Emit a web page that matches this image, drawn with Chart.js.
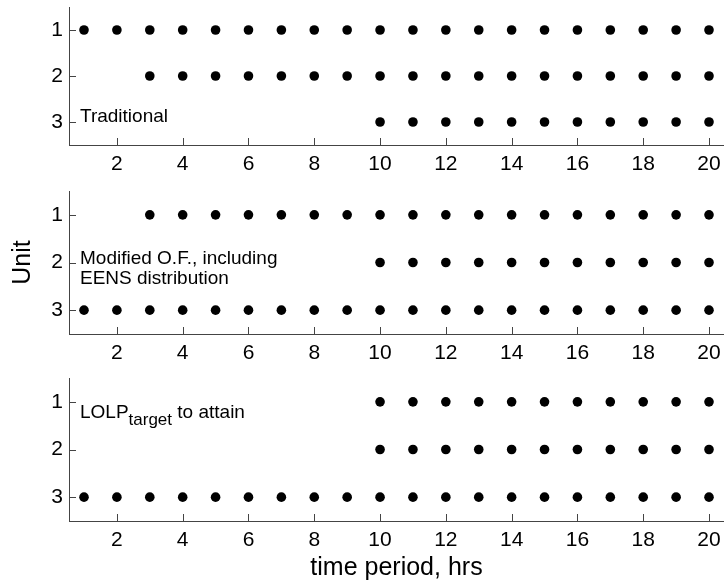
<!DOCTYPE html>
<html>
<head>
<meta charset="utf-8">
<script src="https://cdn.jsdelivr.net/npm/chart.js@4.4.0/dist/chart.umd.min.js"></script>
<style>
    html, body { margin: 0; padding: 0; background: #fff; }
    #wrap { position: relative; width: 724px; height: 581px; overflow: hidden; }
    #wrap canvas { position: absolute; left: 0; }
</style>
</head>
<body>
<div id="wrap">
    <canvas id="cTop" width="724" height="185" style="top:0px"></canvas>
    <canvas id="cMid" width="724" height="190" style="top:185px"></canvas>
    <canvas id="cBot" width="724" height="206" style="top:375px"></canvas>
</div>
<script>
// hours on the x axis and tick labels
const hours = [1, 2, 3, 4, 5, 6, 7, 8, 9, 10, 11, 12, 13, 14, 15, 16, 17, 18, 19, 20];
const xTicks = [2, 4, 6, 8, 10, 12, 14, 16, 18, 20];
const yTicks = [1, 2, 3];

// unit status per hour (1 = committed)
const tradUnit1 = [1, 1, 1, 1, 1, 1, 1, 1, 1, 1, 1, 1, 1, 1, 1, 1, 1, 1, 1, 1];
const tradUnit2 = [0, 0, 1, 1, 1, 1, 1, 1, 1, 1, 1, 1, 1, 1, 1, 1, 1, 1, 1, 1];
const tradUnit3 = [0, 0, 0, 0, 0, 0, 0, 0, 0, 1, 1, 1, 1, 1, 1, 1, 1, 1, 1, 1];

const modUnit1 = [0, 0, 1, 1, 1, 1, 1, 1, 1, 1, 1, 1, 1, 1, 1, 1, 1, 1, 1, 1];
const modUnit2 = [0, 0, 0, 0, 0, 0, 0, 0, 0, 1, 1, 1, 1, 1, 1, 1, 1, 1, 1, 1];
const modUnit3 = [1, 1, 1, 1, 1, 1, 1, 1, 1, 1, 1, 1, 1, 1, 1, 1, 1, 1, 1, 1];

const lolpUnit1 = [0, 0, 0, 0, 0, 0, 0, 0, 0, 1, 1, 1, 1, 1, 1, 1, 1, 1, 1, 1];
const lolpUnit2 = [0, 0, 0, 0, 0, 0, 0, 0, 0, 1, 1, 1, 1, 1, 1, 1, 1, 1, 1, 1];
const lolpUnit3 = [1, 1, 1, 1, 1, 1, 1, 1, 1, 1, 1, 1, 1, 1, 1, 1, 1, 1, 1, 1];

const FONT = "'Liberation Sans', Arial, sans-serif";
const axisColor = '#444';

// inward (matlab style) ticks + text notes placed in data coords
const axesDecor = {
    id: 'axesDecor',
    afterDraw(chart, args, opts) {
        const { ctx, chartArea: a, scales: { x, y } } = chart;
        ctx.save();
        ctx.strokeStyle = axisColor;
        ctx.lineWidth = 1;
        ctx.beginPath();
        x.ticks.forEach(t => {
            const px = Math.round(x.getPixelForValue(t.value)) + 0.5;
            ctx.moveTo(px, a.bottom);
            ctx.lineTo(px, a.bottom - 7);
        });
        y.ticks.forEach(t => {
            const py = Math.round(y.getPixelForValue(t.value)) + 0.5;
            ctx.moveTo(a.left, py);
            ctx.lineTo(a.left + 7, py);
        });
        ctx.stroke();

        ctx.fillStyle = '#000';
        ctx.textBaseline = 'alphabetic';
        (opts.notes || []).forEach(n => {
            let px = x.getPixelForValue(n.x);
            const py = y.getPixelForValue(n.y);
            n.parts.forEach(p => {
                ctx.font = (p.size || 19) + 'px ' + FONT;
                ctx.fillText(p.text, px, py + (p.dy || 0));
                px += ctx.measureText(p.text).width;
            });
        });
        ctx.restore();
    }
};

function toPoints(status, unit) {
    const pts = [];
    status.forEach((on, i) => { if (on) pts.push({ x: hours[i], y: unit }); });
    return pts;
}

function makeChart(id, rows, cfg) {
    const ctx = document.getElementById(id).getContext('2d');
    return new Chart(ctx, {
        type: 'scatter',
        data: {
            datasets: rows.map((r, i) => ({
                label: 'Unit ' + (i + 1),
                data: toPoints(r, i + 1),
                backgroundColor: '#000',
                borderWidth: 0,
                pointRadius: 4.8,
                pointHoverRadius: 4.8,
                clip: false
            }))
        },
        plugins: [axesDecor],
        options: {
            responsive: false,
            animation: false,
            layout: { autoPadding: false, padding: { top: cfg.padTop, left: 0, right: 0, bottom: 0 } },
            plugins: {
                legend: { display: false },
                tooltip: { enabled: false },
                axesDecor: { notes: cfg.notes }
            },
            scales: {
                x: {
                    type: 'linear',
                    min: 0.544,
                    max: 20.456,
                    afterBuildTicks: s => { s.ticks = xTicks.map(v => ({ value: v })); },
                    afterFit: s => { s.height = cfg.xHeight; s.paddingLeft = 0; s.paddingRight = 0; },
                    grid: { display: true, drawOnChartArea: false, drawTicks: false },
                    border: { display: true, color: axisColor, width: 1 },
                    ticks: { color: '#000', padding: 7, maxRotation: 0, autoSkip: false, font: { family: FONT, size: 21 } },
                    title: {
                        display: !!cfg.xTitle,
                        text: cfg.xTitle || '',
                        color: '#000',
                        padding: { top: 0, bottom: -2 },
                        font: { family: FONT, size: 25 }
                    }
                },
                y: {
                    type: 'linear',
                    reverse: true,
                    min: 0.5,
                    max: 3.5,
                    afterBuildTicks: s => { s.ticks = yTicks.map(v => ({ value: v })); },
                    afterFit: s => { s.width = 69; s.paddingTop = 0; s.paddingBottom = 0; },
                    grid: { display: true, drawOnChartArea: false, drawTicks: false },
                    border: { display: true, color: axisColor, width: 1 },
                    ticks: { color: '#000', padding: 6, font: { family: FONT, size: 21 } },
                    title: {
                        display: !!cfg.yTitle,
                        text: cfg.yTitle || '',
                        color: '#000',
                        padding: { top: 8, bottom: 0 },
                        font: { family: FONT, size: 25 }
                    }
                }
            }
        }
    });
}

makeChart('cTop', [tradUnit1, tradUnit2, tradUnit3], {
    padTop: 7,
    xHeight: 40,
    notes: [{ x: 0.878, y: 2.99, parts: [{ text: 'Traditional' }] }]
});

makeChart('cMid', [modUnit1, modUnit2, modUnit3], {
    padTop: 6,
    xHeight: 41,
    yTitle: 'Unit',
    notes: [
        { x: 0.878, y: 2.04, parts: [{ text: 'Modified O.F., including' }] },
        { x: 0.878, y: 2.46, parts: [{ text: 'EENS distribution' }] }
    ]
});

makeChart('cBot', [lolpUnit1, lolpUnit2, lolpUnit3], {
    padTop: 3,
    xHeight: 60,
    xTitle: 'time period, hrs',
    notes: [{
        x: 0.878, y: 1.33,
        parts: [{ text: 'LOLP' }, { text: 'target', size: 17, dy: 7 }, { text: ' to attain' }]
    }]
});
</script>
</body>
</html>
